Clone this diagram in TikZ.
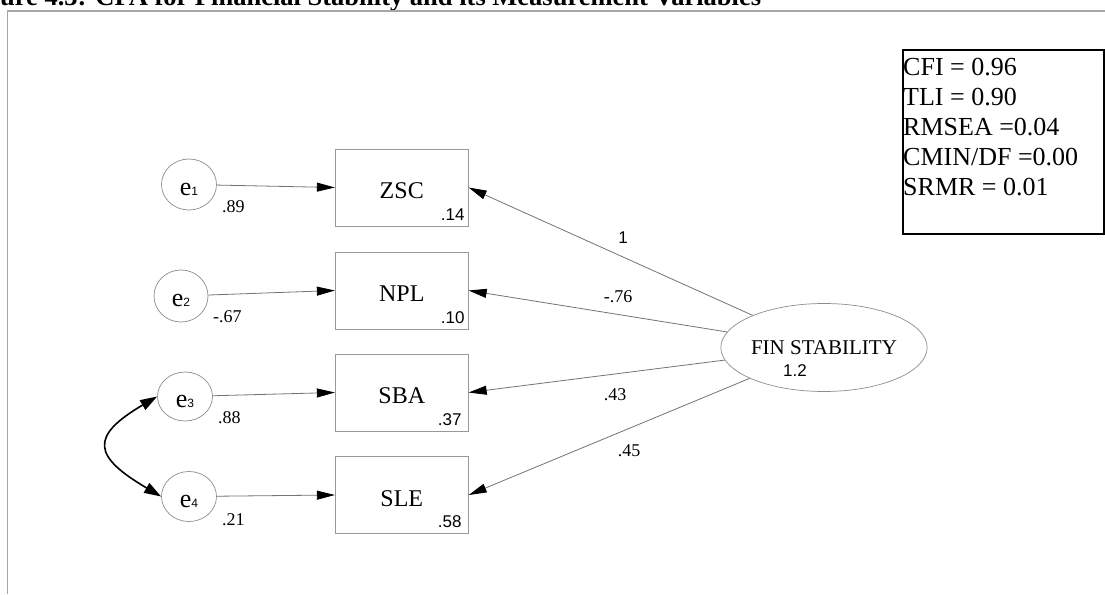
\documentclass[tikz,border=0pt]{standalone}
\usepackage{fontspec}
\setmainfont{Liberation Serif}
\setsansfont{Liberation Sans}
\usetikzlibrary{arrows.meta,shapes.geometric}
\begin{document}
\begin{tikzpicture}[x=1pt,y=-1pt,
  obs/.style={rectangle, draw=black!40, line width=0.8pt, minimum width=133pt, minimum height=77pt,
              inner sep=0pt, text height=22pt, text depth=0pt, font=\fontsize{24}{28}\selectfont},
  err/.style={ellipse, draw=black!45, line width=0.7pt, inner sep=0pt, text height=21pt, text depth=0pt,
              font=\fontsize{26}{30}\selectfont},
  lat/.style={ellipse, draw=black!45, line width=0.7pt, inner sep=0pt, minimum width=188pt, minimum height=88pt,
              font=\fontsize{21}{25}\selectfont},
  conn/.style={black!55, line width=0.8pt, -{Triangle[length=18pt,width=9pt,black]}},
  cov/.style={black, line width=1.6pt, {Triangle[length=17pt,width=11pt]}-{Triangle[length=17pt,width=11pt]}},
  sval/.style={inner sep=0pt, font=\sffamily\fontsize{17}{20}\selectfont},
  rval/.style={inner sep=0pt, font=\fontsize{18}{21}\selectfont},
  fitline/.style={inner sep=0pt, anchor=base west, font=\fontsize{26}{30}\selectfont}
]
\useasboundingbox (0,0) rectangle (1105,594);

% title (cut at the top edge) and frame
\node[anchor=base west, inner sep=0pt, font=\bfseries\fontsize{26.5}{30}\selectfont] (title) at (-36.8,6)
  {Figure 4.3: CFA for Financial Stability and its Measurement Variables};
\draw[black!35, line width=1.3pt] (7.5,594) -- (7.5,11) -- (1105,11);

% observed variables
\node[obs] (zsc) at (401.75,187.5) {ZSC};
\node[obs] (npl) at (401.75,290.5) {NPL};
\node[obs] (sba) at (401.75,392.5) {SBA};
\node[obs] (sle) at (401.75,495) {SLE};

% error terms
\newcommand{\esub}[1]{{\sffamily\fontsize{12}{14}\selectfont #1}}
\node[err, minimum width=55pt, minimum height=51pt] (e1) at (189,184.5) {e\esub{1}};
\node[err, minimum width=54pt, minimum height=52pt] (e2) at (181,296) {e\esub{2}};
\node[err, minimum width=55pt, minimum height=49pt] (e3) at (185,396.5) {e\esub{3}};
\node[err, minimum width=55pt, minimum height=50pt] (e4) at (189,496.5) {e\esub{4}};

% latent
\node[lat] (fin) at (824,347.5) {FIN STABILITY};
\node[sval] (finv) at (795,370.5) {1.2};

% error paths
\draw[conn] (e1) -- (zsc.west);
\draw[conn] (e2) -- (npl.west);
\draw[conn] (e3) -- (sba.west);
\draw[conn] (e4) -- (sle.west);

% covariance
\draw[cov] (e3.west) .. controls +(-68,40) and +(-68,-40) .. (e4.west);

% loadings
\draw[conn] (fin) -- (zsc.east);
\draw[conn] (fin) -- (npl.east);
\draw[conn] (fin) -- (sba.east);
\draw[conn] (fin) -- (sle.east);

\node[sval] (l1) at (623,238) {1};
\node[rval] (l2) at (618,297) {-.76};
\node[rval] (l3) at (615,395) {.43};
\node[rval] (l4) at (629,451) {.45};

% error values
\node[rval, anchor=base west] (v1) at ([shift={(33,27.5)}]e1.center) {.89};
\node[rval, anchor=base west] (v2) at ([shift={(32,26)}]e2.center) {-.67};
\node[rval, anchor=base west] (v3) at ([shift={(33,26.5)}]e3.center) {.88};
\node[rval, anchor=base west] (v4) at ([shift={(33,28.5)}]e4.center) {.21};

% squared multiple correlations
\node[sval, anchor=base east] (r1) at ([shift={(-4,-6)}]zsc.south east) {.14};
\node[sval, anchor=base east] (r2) at ([shift={(-4,-6)}]npl.south east) {.10};
\node[sval, anchor=base east] (r3) at ([shift={(-7,-6)}]sba.south east) {.37};
\node[sval, anchor=base east] (r4) at ([shift={(-7,-6)}]sle.south east) {.58};

% fit indices box
\node[draw=black, line width=2pt, rectangle, minimum width=201pt, minimum height=184pt, inner sep=0pt,
      anchor=north west] (fitbox) at (902,49) {};
\node[fitline] (f1) at (903,75) {CFI = 0.96};
\node[fitline] (f2) at (903,105) {TLI = 0.90};
\node[fitline] (f3) at (903,135.5) {RMSEA =0.04};
\node[fitline] (f4) at (903,165.5) {CMIN/DF =0.00};
\node[fitline] (f5) at (903,195) {SRMR = 0.01};
\end{tikzpicture}
\end{document}
